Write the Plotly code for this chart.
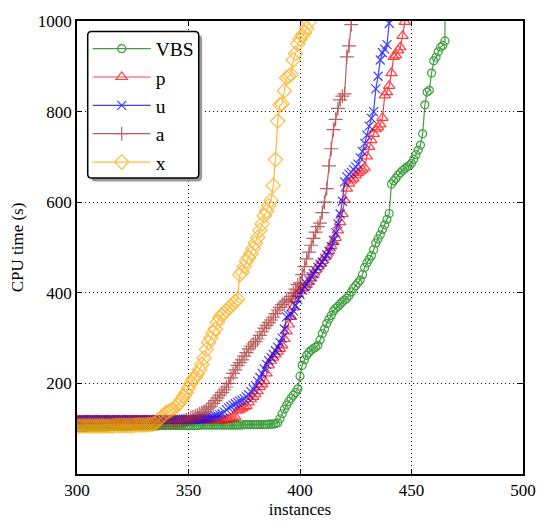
import plotly.graph_objects as go

X0 = 300  # instance count of the first value in every list

vbs = [103,103,103,103,103,104,104,104,104,104,
       104,104,104,104,105,105,105,105,105,105,
       105,105,105,105,105,106,106,106,106,106,
       106,106,106,106,106,106,106,107,107,107,
       107,107,107,107,107,107,107,107,107,107,
       107,107,107,107,107,108,108,108,108,108,
       108,108,108,108,108,108,108,108,108,108,
       108,108,108,108,108,109,109,109,109,109,
       109,109,109,109,109,109,110,110,110,111,
       113,122,133,143,152,160,167,174,180,188,
       216,240,252,262,268,273,277,280,284,296,
       310,320,332,342,350,360,366,370,375,380,
       384,388,394,402,410,416,422,428,440,456,
       466,474,482,495,510,519,528,540,550,562,
       575,640,647,653,660,665,670,674,678,681,
       686,695,705,715,726,751,815,843,847,885,
       912,920,932,942,946,956,5000]

p_vals = [118,118,118,118,118,118,118,118,118,118,
          118,118,118,118,118,118,118,118,118,118,
          118,118,118,118,118,118,118,118,118,118,
          118,118,118,118,118,118,118,118,118,118,
          118,118,118,118,118,118,118,118,118,118,
          118,118,118,118,118,118,118,118,118,118,
          118,118,118,118,118,118,119,120,121,122,
          124,126,140,142,145,148,150,158,165,170,
          176,183,192,198,205,222,240,250,257,264,
          270,276,284,298,315,330,347,368,386,397,
          404,409,412,418,424,432,440,450,457,464,
          470,478,484,492,503,512,521,538,556,574,
          605,630,641,648,652,659,664,668,672,676,
          701,722,737,751,761,765,772,786,836,843,
          857,885,921,924,935,942,967,998,5000]

u_vals = [120,120,120,120,120,120,120,120,120,120,
          120,120,120,120,120,120,120,120,120,120,
          120,120,120,120,120,120,120,120,120,120,
          120,120,120,120,120,120,120,120,120,120,
          120,120,120,120,120,120,120,120,120,120,
          120,120,120,120,121,121,122,122,123,124,
          125,126,128,129,131,133,137,142,146,149,
          152,155,158,161,163,166,170,175,182,188,
          195,205,213,222,232,242,250,257,264,272,
          280,290,300,320,347,350,352,360,372,385,
          396,406,414,420,428,436,442,449,456,463,
          468,476,484,492,502,516,533,552,574,602,
          645,656,662,666,672,678,684,698,712,730,
          748,768,785,800,850,878,914,930,938,948,
          995,5000]

a_vals = [115,115,115,115,115,115,115,115,115,115,
          115,115,115,115,115,115,115,115,115,115,
          115,115,115,115,115,115,115,115,115,115,
          115,115,115,115,115,115,115,115,115,115,
          115,115,115,115,115,115,116,117,118,120,
          122,124,126,128,130,133,136,138,142,146,
          150,156,162,168,174,180,186,192,200,212,
          222,230,240,246,252,260,268,276,282,287,
          292,298,306,314,322,328,334,340,346,354,
          362,368,374,378,382,386,392,400,408,418,
          422,440,458,475,490,505,520,534,546,554,
          577,600,630,680,718,760,783,807,826,834,
          839,921,945,992,5000]

x_vals = [106,106,106,106,106,106,106,106,106,106,
          106,106,106,106,106,106,106,107,107,107,
          107,107,107,107,107,107,108,108,108,108,
          108,108,109,109,110,112,116,121,126,131,
          135,138,141,144,147,152,157,165,172,180,
          190,200,208,214,221,230,242,256,275,290,
          300,312,320,335,345,351,356,361,366,371,
          376,380,386,440,446,458,470,478,486,498,
          510,522,538,552,570,580,592,604,637,694,
          779,815,817,846,875,878,882,914,928,949,
          960,968,974,984,997,5000]

names = ["VBS", "p", "u", "a", "x"]
series = [vbs, p_vals, u_vals, a_vals, x_vals]
colors = ["#008000", "#ff0000", "#0000ff", "#a52a2a", "#ffa500"]
symbols = ["circle-open", "triangle-up-open", "x-thin-open", "cross-thin-open", "diamond-open"]
sizes = [8, 10, 9, 10, 11]

fig = go.Figure()
for i, (nm, vals) in enumerate(zip(names, series)):
    xs = [X0 + k for k in range(len(vals))]
    fig.add_trace(go.Scatter(
        x=xs, y=vals, name=nm, mode="lines+markers",
        opacity=0.75,
        line=dict(color=colors[i], width=1.2),
        marker=dict(symbol=symbols[i], size=sizes[i], color=colors[i],
                    line=dict(color=colors[i], width=1.2)),
    ))

axis_common = dict(
    showline=True, linecolor="black", linewidth=1.5, mirror="ticks",
    ticks="inside", ticklen=5, tickwidth=1, tickcolor="black",
    showgrid=True, gridcolor="black", gridwidth=1, griddash="1px,3px",
    zeroline=False, tickfont=dict(size=17, color="black"),
)
fig.update_xaxes(range=[300, 500], tickvals=[300, 350, 400, 450, 500],
                 title=dict(text="instances", font=dict(size=17), standoff=4),
                 **axis_common)
fig.update_yaxes(range=[0, 1000], tickvals=[200, 400, 600, 800, 1000],
                 title=dict(text="CPU time (s)", font=dict(size=17), standoff=10),
                 **axis_common)

# plot area and legend frame geometry (pixels)
PL, PT, PW, PH = 77, 12, 458, 473
BOX_L, BOX_T, BOX_R, BOX_B, RAD, SH = 88, 23, 202, 176, 4, 3.5


def px(x):
    return (x - PL) / PW


def py(y):
    return 1 - (y - PT) / PH


def rounded(l, t, r, b, rad):
    return (f"M {px(l + rad)},{py(t)} L {px(r - rad)},{py(t)} "
            f"Q {px(r)},{py(t)} {px(r)},{py(t + rad)} L {px(r)},{py(b - rad)} "
            f"Q {px(r)},{py(b)} {px(r - rad)},{py(b)} L {px(l + rad)},{py(b)} "
            f"Q {px(l)},{py(b)} {px(l)},{py(b - rad)} L {px(l)},{py(t + rad)} "
            f"Q {px(l)},{py(t)} {px(l + rad)},{py(t)} Z")


fig.add_shape(type="path", xref="paper", yref="paper",
              path=rounded(BOX_L + SH, BOX_T + SH, BOX_R + SH, BOX_B + SH, RAD),
              fillcolor="#999999", line=dict(width=0), layer="above")
fig.add_shape(type="path", xref="paper", yref="paper",
              path=rounded(BOX_L, BOX_T, BOX_R, BOX_B, RAD),
              fillcolor="white", line=dict(color="black", width=1.5), layer="above")

LEG_FONT = 19.5
item_h = LEG_FONT * 1.3 + 3
leg_top = 40 - (item_h / 2 + 5)

fig.update_layout(
    width=548, height=528,
    margin=dict(l=PL, r=13, t=PT, b=43),
    plot_bgcolor="white", paper_bgcolor="white",
    font=dict(family="Liberation Serif", color="black", size=17),
    legend=dict(x=px(BOX_L), y=py(leg_top), xanchor="left", yanchor="top",
                bgcolor="rgba(0,0,0,0)", borderwidth=0,
                font=dict(size=LEG_FONT), itemwidth=58),
    showlegend=True,
)

fig.write_html("out.html", post_script="document.body.style.margin='0px';",
               config={"displayModeBar": False})
